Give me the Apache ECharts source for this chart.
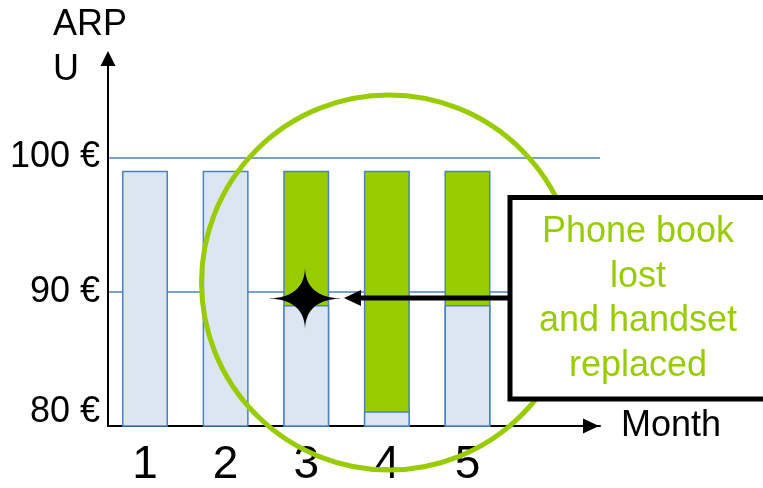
<!DOCTYPE html>
<html>
<head>
<meta charset="utf-8">
<script src="https://cdn.jsdelivr.net/npm/echarts@6/dist/echarts.min.js"></script>
<style>
  html, body { margin: 0; padding: 0; background: #fff; }
  #arpuChart { width: 763px; height: 488px; }
</style>
</head>
<body>
<div id="arpuChart"></div>
<script>
// values
const months = [1, 2, 3, 4, 5];
const monthLabels = ['1', '2', '3', '4', '5'];
const arpuBase = [99, 99, 89, 81.1, 89];        // light blue part
const arpuTotal = [null, null, 99, 99, 99];     // top of the green part
const yTickValues = [80, 90, 100];
const yTickLabels = ['80 €', '90 €', '100 €'];

const FONT = 'Liberation Sans, Arial, sans-serif';
const GREEN = '#99cc00';
const BLUE = '#4f81bd';

// 4-point star outline with concave arms
function starPoints(cx, cy, rx, ry) {
  const pts = [];
  const n = 120;
  for (let i = 0; i < n; i++) {
    const a = (i / n) * Math.PI * 2;
    const c = Math.cos(a), s = Math.sin(a);
    pts.push([
      cx + rx * Math.sign(c) * Math.pow(Math.abs(c), 4),
      cy + ry * Math.sign(s) * Math.pow(Math.abs(s), 4)
    ]);
  }
  return pts;
}

const chart = echarts.init(document.getElementById('arpuChart'));

chart.setOption({
  animation: false,
  textStyle: { fontFamily: FONT },
  grid: { left: 108, right: 163, top: 58.5, bottom: 59.5 },
  xAxis: {
    type: 'value',
    min: 0.5411,
    max: 6.6434,
    name: 'Month',
    nameLocation: 'end',
    nameGap: 21,
    nameTextStyle: { fontSize: 36, color: '#000', fontFamily: FONT },
    axisLine: {
      show: true,
      lineStyle: { color: '#000', width: 2 },
      symbol: ['none', 'triangle'],
      symbolSize: [15, 16],
      symbolOffset: [0, -9]
    },
    axisTick: { show: false },
    splitLine: { show: false },
    axisLabel: {
      customValues: months,
      fontSize: 46,
      color: '#000',
      margin: 16,
      fontFamily: FONT,
      formatter: v => monthLabels[months.indexOf(v)] || ''
    }
  },
  yAxis: {
    type: 'value',
    min: 80,
    max: 107.36,
    interval: 10,
    axisLine: {
      show: true,
      lineStyle: { color: '#000', width: 2 },
      symbol: ['none', 'triangle'],
      symbolSize: [15, 15]
    },
    axisTick: { show: false },
    splitLine: {
      show: true,
      showMinLine: false,
      showMaxLine: false,
      lineStyle: { color: BLUE, width: 1.5 }
    },
    axisLabel: {
      fontSize: 36,
      color: '#000',
      margin: 8,
      fontFamily: FONT,
      formatter: v => {
        const i = yTickValues.indexOf(v);
        if (i < 0) return '';
        return i === 0 ? '{low|' + yTickLabels[i] + '}' : yTickLabels[i];
      },
      rich: {
        low: { fontSize: 36, color: '#000', fontFamily: FONT, padding: [0, 0, 28, 0] }
      }
    }
  },
  series: [
    {
      // green part: drawn first, full height, the blue part covers its lower end
      type: 'bar',
      barWidth: 46,
      data: months.map((m, i) => [m, arpuTotal[i]]),
      itemStyle: { color: GREEN, borderColor: BLUE, borderWidth: 1.5 }
    },
    {
      type: 'bar',
      barWidth: 46,
      barGap: '-100%',
      data: months.map((m, i) => [m, arpuBase[i]]),
      itemStyle: { color: '#dce6f2', borderColor: BLUE, borderWidth: 1.5 }
    }
  ],
  graphic: [
    {
      type: 'text', x: 53, y: 48, z: 100,
      style: { text: 'ARP\nU', font: '36px ' + FONT, fill: '#000', verticalAlign: 'middle', lineHeight: 45 }
    },
    {
      type: 'circle', z: 100,
      shape: { cx: 389, cy: 282.5, r: 187.5 },
      style: { fill: 'none', stroke: GREEN, lineWidth: 5 }
    },
    {
      type: 'line', z: 101,
      shape: { x1: 512, y1: 298, x2: 355, y2: 298 },
      style: { stroke: '#000', lineWidth: 5 }
    },
    {
      type: 'polygon', z: 101,
      shape: { points: [[344, 298], [361, 290], [361, 306]] },
      style: { fill: '#000' }
    },
    {
      type: 'polygon', z: 102,
      shape: { points: starPoints(305, 298.5, 39, 32) },
      style: { fill: '#000' }
    },
    {
      type: 'rect', z: 103,
      shape: { x: 510, y: 197.5, width: 280, height: 201.5 },
      style: { fill: '#fff', stroke: '#000', lineWidth: 5 }
    },
    {
      type: 'text', x: 638, y: 299, z: 104,
      style: {
        text: 'Phone book\nlost\nand handset\nreplaced',
        font: '36px ' + FONT,
        fill: GREEN,
        align: 'center',
        verticalAlign: 'middle',
        lineHeight: 44.5
      }
    }
  ]
});
</script>
</body>
</html>
